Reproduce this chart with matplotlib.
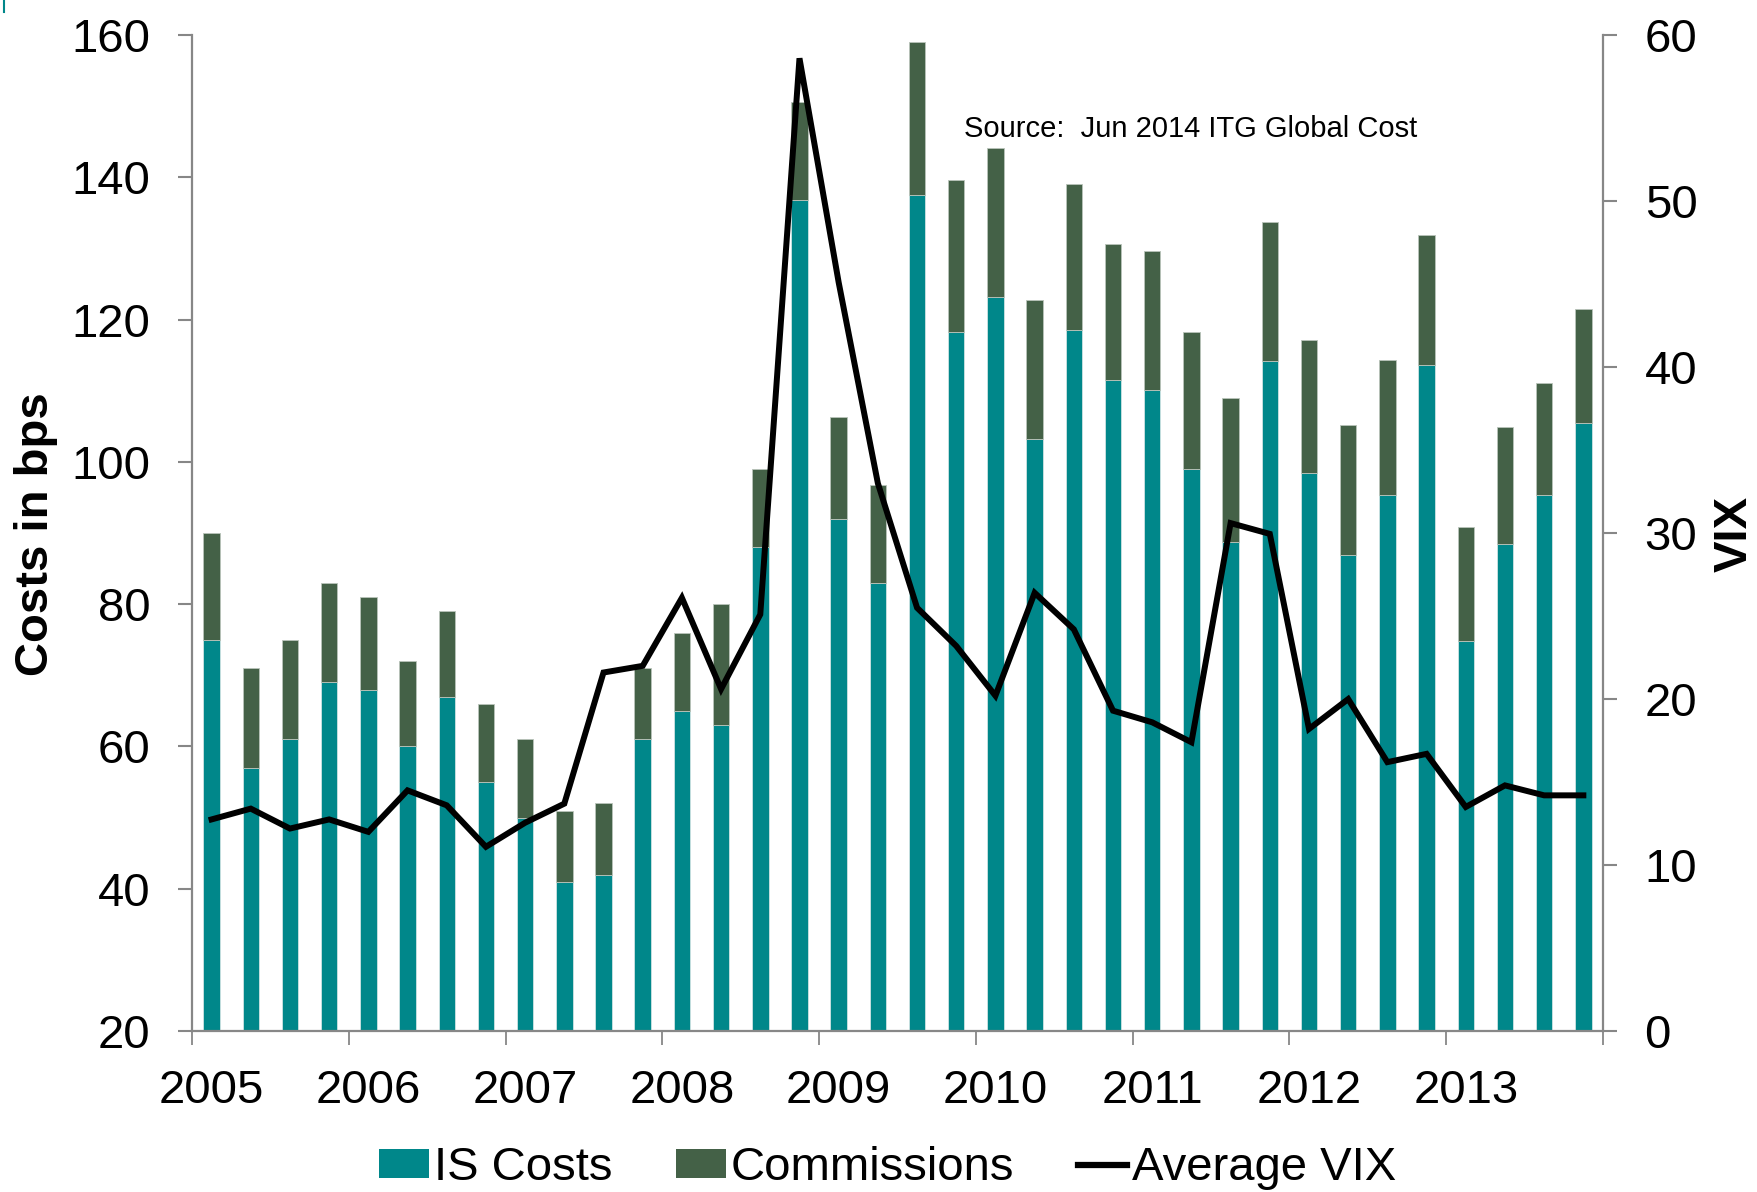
import matplotlib
matplotlib.use('Agg')
import matplotlib.pyplot as plt
from matplotlib.lines import Line2D
from matplotlib.patches import Patch

plt.rcParams['font.family'] = ['Liberation Sans', 'DejaVu Sans']

# 분기별 데이터 (2005 Q1 ~ 2013 Q4)
quarters = [f'{y}Q{q}' for y in range(2005, 2014) for q in range(1, 5)]
is_costs = [75, 57, 61, 69, 68, 60, 67, 55,
            50, 41, 42, 61, 65, 63, 88, 136.8,
            92, 83, 137.5, 118.2, 123.2, 103.2, 118.6, 111.5,
            110.1, 99, 88.7, 114.2, 98.5, 86.9, 95.4, 113.6,
            74.8, 88.5, 95.4, 105.4]
total_costs = [90, 71, 75, 83, 81, 72, 79, 66,
               61, 51, 52, 71, 76, 80, 99, 150.6,
               106.3, 96.8, 159, 139.6, 144.1, 122.7, 139, 130.7,
               129.7, 118.3, 109, 133.7, 117.2, 105.2, 114.3, 131.9,
               90.9, 104.9, 111.1, 121.5]
commissions = [t - s for t, s in zip(total_costs, is_costs)]
avg_vix = [12.75, 13.4, 12.2, 12.75, 12.0, 14.5, 13.6, 11.1,
           12.55, 13.7, 21.6, 22.0, 26.1, 20.6, 25.1, 58.6,
           45.1, 33.0, 25.5, 23.2, 20.2, 26.4, 24.2, 19.3,
           18.6, 17.4, 30.6, 29.95, 18.2, 20.0, 16.2, 16.7,
           13.5, 14.8, 14.2, 14.2]
year_labels = [str(y) for y in range(2005, 2014)]

TEAL = '#00878A'
GREEN = '#446147'
GREY = '#878787'

fig = plt.figure(figsize=(17.58, 11.92), dpi=100)
ax = fig.add_axes([0.1092, 0.135, 0.8026, 0.8356])

x = list(range(len(quarters)))
ax.bar(x, is_costs, width=0.42, bottom=0, color=TEAL, edgecolor='#cfe3e3', linewidth=0.6, zorder=2)
ax.bar(x, commissions, width=0.42, bottom=is_costs, color=GREEN, edgecolor='#b9c4ba', linewidth=0.6, zorder=2)

ax.set_xlim(-0.5, len(quarters) - 0.5)
ax.set_ylim(20, 160)
ax.set_yticks(range(20, 161, 20))
ax.set_xticks(range(0, len(quarters), 4))
ax.set_xticklabels(year_labels)
ax.set_xticks([i - 0.5 for i in range(0, len(quarters) + 1, 4)], minor=True)
ax.tick_params(axis='x', which='major', length=0, pad=27, labelsize=34)
ax.tick_params(axis='x', which='minor', length=10, width=1.3, color=GREY, direction='out')
ax.tick_params(axis='y', length=10, width=1.5, color=GREY, direction='out', pad=20, labelsize=34)

for side in ['top', 'right']:
    ax.spines[side].set_visible(False)
for side in ['left', 'bottom']:
    ax.spines[side].set_color(GREY)
    ax.spines[side].set_linewidth(1.6)

ax2 = ax.twinx()
ax2.plot(x, avg_vix, color='black', linewidth=4.3, solid_joinstyle='miter', zorder=3)
ax2.set_ylim(0, 60)
ax2.set_yticks(range(0, 61, 10))
ax2.tick_params(axis='y', length=10, width=1.5, color=GREY, direction='out', pad=20, labelsize=34)
for side in ['top', 'left', 'bottom']:
    ax2.spines[side].set_visible(False)
ax2.spines['right'].set_color(GREY)
ax2.spines['right'].set_linewidth(1.6)

fig.text(0.0205, 0.552, 'Costs in bps', rotation=90, ha='center', va='center',
         fontsize=34, fontweight='bold')
fig.text(0.9866, 0.552, 'VIX', rotation=90, ha='center', va='center',
         fontsize=34, fontweight='bold')
fig.text(0.5484, 0.8918, 'Source:  Jun 2014 ITG Global Cost', ha='left', va='center', fontsize=21)

# 좌상단 작은 표시
fig.add_artist(Line2D([0.0022, 0.0022], [0.99, 1.0], color=TEAL, linewidth=1.5))

handles = [Patch(facecolor=TEAL, edgecolor='none'),
           Patch(facecolor=GREEN, edgecolor='none'),
           Line2D([0], [0], color='black', linewidth=4.5)]
fig.legend(handles, ['IS Costs', 'Commissions', 'Average VIX'], loc='center',
           bbox_to_anchor=(0.505, 0.02), ncol=3, frameon=False, fontsize=34,
           handlelength=1.05, handleheight=0.55, handletextpad=0.1, columnspacing=1.35,
           borderpad=0, borderaxespad=0)

fig.savefig('out.png', dpi=100)
